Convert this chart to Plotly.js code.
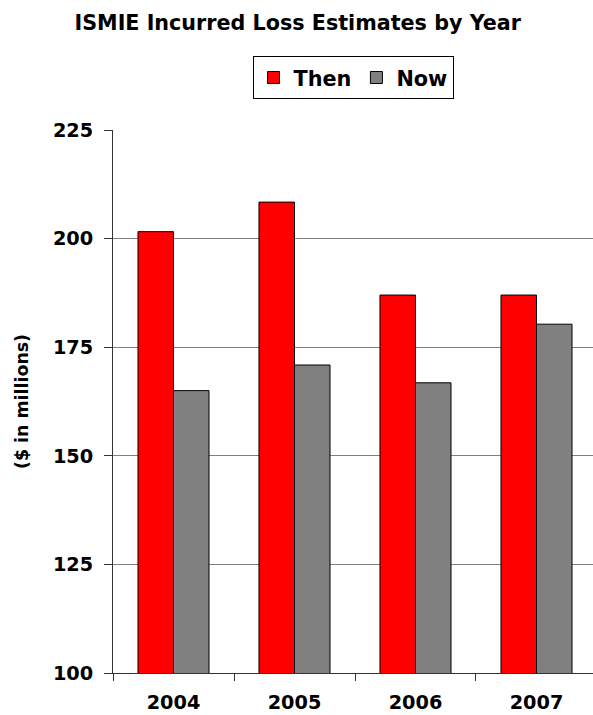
<!DOCTYPE html>
<html>
<head>
<meta charset="utf-8">
<script src="https://cdn.plot.ly/plotly-3.0.1.min.js"></script>
<style>
  html, body { margin: 0; padding: 0; background: #fff; }
  #chart { width: 593px; height: 715px; }
</style>
</head>
<body>
<div id="chart"></div>
<script>
// ---- Data ----
const years = ["2004", "2005", "2006", "2007"];
const thenValues = [201.6, 208.4, 187.0, 187.0];
const nowValues = [165.0, 170.9, 166.8, 180.3];
const yTickValues = [100, 125, 150, 175, 200, 225];

const FONT = "DejaVu Sans, Liberation Sans, Arial, sans-serif";

const traces = [
  {
    type: "bar",
    name: "Then",
    x: years,
    y: thenValues,
    marker: { color: "#FF0000", line: { color: "#000000", width: 1 } },
    hoverinfo: "x+y+name"
  },
  {
    type: "bar",
    name: "Now",
    x: years,
    y: nowValues,
    marker: { color: "#808080", line: { color: "#000000", width: 1 } },
    hoverinfo: "x+y+name"
  }
];

const layout = {
  width: 593,
  height: 715,
  paper_bgcolor: "#ffffff",
  plot_bgcolor: "#ffffff",
  margin: { l: 113, r: 0, t: 130, b: 42, pad: 0 },
  font: { family: FONT, color: "#000000" },
  title: {
    text: "<b>ISMIE Incurred Loss Estimates by Year</b>",
    font: { family: FONT, size: 20.7, color: "#000000" },
    x: 0.502,
    xref: "container",
    xanchor: "center",
    y: 1 - 23 / 715,
    yref: "container",
    yanchor: "middle"
  },
  barmode: "group",
  bargap: 0.413,
  bargroupgap: 0,
  showlegend: true,
  legend: {
    orientation: "h",
    x: 0.5,
    xanchor: "center",
    y: 1.0958,
    yanchor: "middle",
    bgcolor: "#ffffff",
    bordercolor: "#000000",
    borderwidth: 1,
    font: { family: FONT, size: 20.8, color: "#000000", weight: "bold" },
    traceorder: "normal"
  },
  xaxis: {
    type: "category",
    range: [-0.5, 3.467],
    tickson: "boundaries",
    ticks: "outside",
    ticklen: 7,
    tickcolor: "#333333",
    tickwidth: 1,
    showline: true,
    linecolor: "#333333",
    linewidth: 1,
    showgrid: false,
    zeroline: false,
    tickfont: { family: FONT, size: 19.3, color: "#000000", weight: "bold" },
    ticklabelstandoff: 12,
    automargin: false,
    fixedrange: true
  },
  yaxis: {
    range: [100, 225],
    tickvals: yTickValues,
    ticktext: yTickValues.map(String),
    ticks: "outside",
    ticklen: 8,
    tickcolor: "#333333",
    tickwidth: 1,
    showline: true,
    linecolor: "#333333",
    linewidth: 1,
    showgrid: true,
    gridcolor: "#808080",
    gridwidth: 1,
    zeroline: false,
    tickfont: { family: FONT, size: 19.3, color: "#000000", weight: "bold" },
    ticklabelstandoff: 7,
    title: {
      text: "<b>($ in millions)</b>",
      font: { family: FONT, size: 17.4, color: "#000000" },
      standoff: 19
    },
    automargin: false,
    fixedrange: true
  }
};

Plotly.newPlot("chart", traces, layout, { displayModeBar: false, staticPlot: true });
</script>
</body>
</html>
